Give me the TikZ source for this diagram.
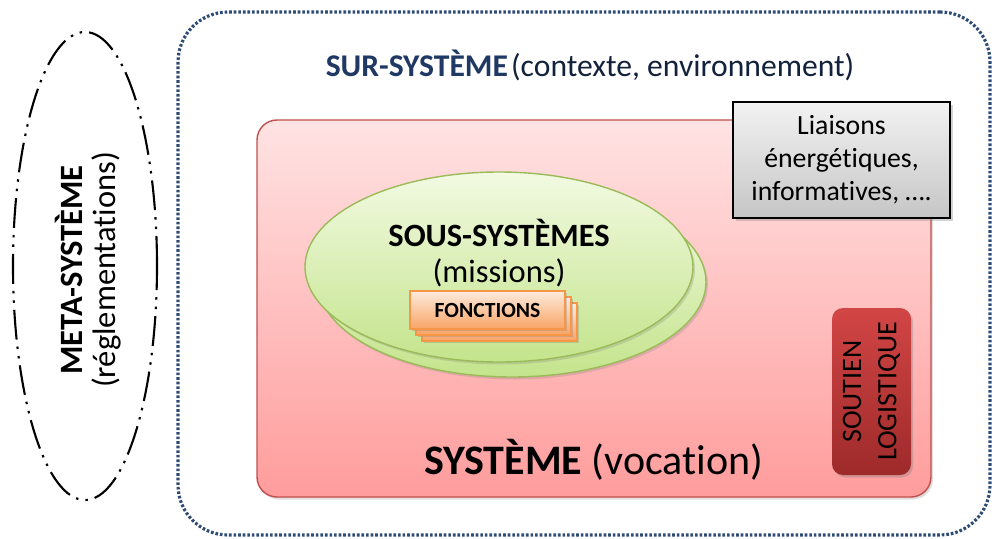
\documentclass[tikz,border=0pt]{standalone}
\usepackage{fontspec}
\setmainfont{Carlito}[Ligatures={NoCommon}]
\usepackage{xcolor}
\usepackage{tikz}
\usetikzlibrary{shapes.geometric, shadows, positioning}

\definecolor{surblue}{HTML}{1F3864}
\definecolor{surdots}{HTML}{2E4B76}
\definecolor{sysedge}{HTML}{C0504D}
\definecolor{systop}{HTML}{FFE3E3}
\definecolor{sysbot}{HTML}{FF9C9C}
\definecolor{greenedge}{HTML}{9BBB59}
\definecolor{greentop}{HTML}{F2FAE2}
\definecolor{greenbot}{HTML}{C4E48C}
\definecolor{orangeedge}{HTML}{F79646}
\definecolor{orangetop}{HTML}{FDEBDD}
\definecolor{orangebot}{HTML}{F9A465}
\definecolor{redtop}{HTML}{D24545}
\definecolor{redbot}{HTML}{9E2A2A}

\begin{document}
\begin{tikzpicture}[
    meta/.style={ellipse, draw=black, line width=1.2pt,
        dash pattern=on 17pt off 4pt on 1.4pt off 4pt on 1.4pt off 4pt,
        minimum width=2.88cm, minimum height=9.36cm},
    surbox/.style={rectangle, rounded corners=1cm, draw=surdots, line width=1.8pt,
        dash pattern=on 1.5pt off 1.1pt, minimum width=16.24cm, minimum height=10.46cm},
    sysbox/.style={rectangle, rounded corners=0.4cm, draw=sysedge, line width=0.8pt,
        top color=systop, bottom color=sysbot, minimum width=13.48cm, minimum height=7.54cm,
        drop shadow={opacity=0.25, shadow xshift=0.04cm, shadow yshift=-0.05cm}},
    linkbox/.style={rectangle, draw=black, line width=0.6pt, top color=gray!10, bottom color=gray!45,
        minimum width=4.34cm, minimum height=2.32cm, align=center, font=\fontsize{15.8}{18.7}\selectfont,
        drop shadow={opacity=0.35, shadow xshift=0.05cm, shadow yshift=-0.06cm}},
    subsys/.style={ellipse, draw=greenedge, line width=0.8pt, top color=greentop, bottom color=greenbot,
        minimum width=7.76cm, minimum height=3.8cm,
        drop shadow={opacity=0.25, shadow xshift=0.04cm, shadow yshift=-0.05cm}},
    fbox/.style={rectangle, draw=orangeedge, line width=0.6pt, top color=orangetop, bottom color=orangebot,
        minimum width=3.1cm, minimum height=0.76cm, font=\fontsize{12.3}{14}\selectfont\bfseries,
        drop shadow={opacity=0.3, shadow xshift=0.03cm, shadow yshift=-0.04cm}},
    logbox/.style={rectangle, rounded corners=0.22cm, top color=redtop, bottom color=redbot,
        minimum width=1.58cm, minimum height=3.34cm,
        drop shadow={opacity=0.35, shadow xshift=0.04cm, shadow yshift=-0.05cm}},
    bigtext/.style={font=\fontsize{18}{20}\selectfont, align=center}
]
\useasboundingbox (0,0) rectangle (19.84,10.76);

% Sur-systeme and meta-systeme
\node[surbox] (sur) at (11.68,5.29) {};
\node[bigtext] (surtitle) at (11.80,9.46) {\textcolor{surblue}{\textbf{SUR-SYSTÈME}}\hspace{0.1em}\textcolor{surblue!60!black}{(contexte, environnement)}};

\node[meta] (meta) at (1.70,5.44) {};
\node[bigtext, rotate=90, font=\fontsize{18.5}{18.5}\selectfont] (metatitle) at (1.76,5.36) {\textbf{META-SYSTÈME}\\(réglementations)};

% Systeme
\node[sysbox] (sys) at (11.88,4.59) {};
\node[linkbox] (links) at (16.83,7.56) {Liaisons\\énergétiques,\\informatives, ….};

% Sous-systemes
\node[subsys] (subback) at (10.24,5.12) {};
\node[subsys] (subfront) at (9.98,5.42) {};
\node[bigtext, font=\fontsize{18.5}{20.5}\selectfont] (sublabel) at (9.98,5.70) {\textbf{SOUS-SYSTÈMES}\\(missions)};

% Fonctions
\node[fbox] (fonc3) at (9.99,4.32) {};
\node[fbox] (fonc2) at (9.87,4.44) {};
\node[fbox] (fonc1) at (9.75,4.56) {FONCTIONS};

\node[logbox] (soutien) at (17.43,2.93) {};
\node[rotate=90, align=center, font=\fontsize{16}{20}\selectfont] (soutienlabel) at (soutien) {SOUTIEN\\LOGISTIQUE};

\node[font=\fontsize{23.9}{28}\selectfont] (systitle) at (11.87,1.56) {\textbf{SYSTÈME} (vocation)};

\end{tikzpicture}
\end{document}
